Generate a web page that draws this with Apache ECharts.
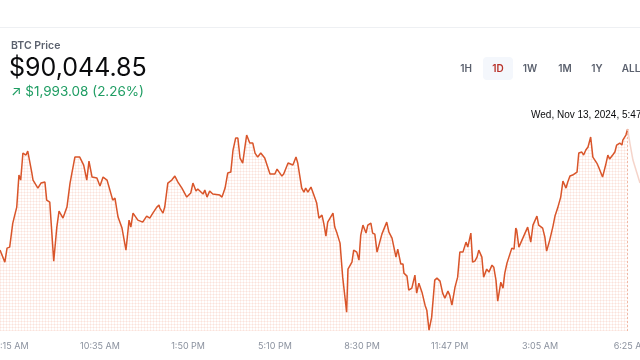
<!DOCTYPE html>
<html>
<head>
<meta charset="utf-8">
<script src="https://cdn.jsdelivr.net/npm/echarts@6/dist/echarts.min.js"></script>
<style>
html,body{margin:0;padding:0;background:#fff;}
#chart{width:640px;height:360px;}
</style>
</head>
<body>
<div id="chart"></div>
<script>
// minutes after 7:15 AM (Nov 12, 2024)
const times = [-27,-16,-11,-5,2,11,16,20,25,32,36,45,48,59,66,75,79,86,95,102,107,116,125,132,143,154,163,170,175,182,193,200,207,216,229,234,241,250,259,266,270,275,286,297,306,313,320,329,334,336,343,347,354,363,370,377,386,397,406,411,418,422,434,438,443,449,456,472,477,484,490,497,502,508,513,518,524,529,533,540,547,552,558,565,574,586,597,602,613,617,627,638,645,649,658,663,667,672,679,683,688,692,697,704,708,713,717,729,733,738,745,751,760,763,772,776,783,788,792,797,804,808,815,819,824,829,840,851,856,863,872,876,883,888,890,897,901,908,915,919,924,931,938,942,947,953,960,965,972,978,983,990,994,999,1006,1012,1017,1024,1031,1035,1042,1046,1051,1056,1060,1067,1071,1078,1083,1090,1094,1099,1103,1110,1115,1119,1124,1128,1135,1140,1144,1146,1151,1158,1165,1171,1178,1183,1192,1196,1205,1210,1214,1221,1228,1233,1239,1246,1251,1258,1262,1267,1273,1283,1287,1294,1298,1303,1308,1314,1319,1328,1332,1341,1348,1353,1357,1364,1369,1373,1380,1385,1387,1394,1398,1403,1410,1419,1426];
const prices = [87140,86852,87188,87212,87788,88172,88940,88820,89468,89420,89516,89012,88820,88628,88748,88772,88340,88292,86876,87692,88076,87908,88172,88748,89372,89372,89180,88820,89276,88892,88868,88676,88892,88820,88340,88388,87932,87668,87140,87860,87692,88028,87860,87812,87956,87908,88028,88172,88220,88148,88028,88172,88748,88820,88916,88772,88628,88412,88508,88748,88556,88604,88484,88580,88412,88556,88484,88460,88412,88628,88988,89012,89540,89828,89828,89348,89228,89612,89900,89708,89708,89468,89372,89468,89348,88964,88964,89084,88916,88964,89228,89180,89372,89228,88628,88532,88628,88532,88652,88628,88388,88268,87908,87980,87788,87476,87812,88028,87692,87548,87308,86492,85652,86684,86852,87140,87092,86900,87500,87740,87548,87740,87788,87548,87524,87092,87524,87812,87572,87428,86972,87164,86804,86804,86588,86516,86180,86228,86540,86108,86348,86132,85820,85700,85220,85532,86420,86468,86396,86108,85988,86156,86060,85820,86252,86492,87092,87092,87332,87212,87548,86852,86876,86972,87140,86972,86492,86684,86612,86780,86732,86420,85916,86372,86228,86588,86828,86852,87188,87164,87668,87620,87212,87380,87548,87692,87332,87740,87956,87740,87668,87452,87116,87380,87692,87956,88148,88412,88796,88628,88772,88916,88940,89012,89468,89492,89420,89540,89612,89852,89372,89228,89132,88892,89180,89420,89324,89420,89492,89660,89708,89660,89780,89900,90044.85,89708,89300,88988,88748];
const tickTimes = [0,200,400,597,795,994,1199,1407];
const tickLabels = ['7:15 AM','10:35 AM','1:50 PM','5:10 PM','8:30 PM','11:47 PM','3:05 AM','6:25 AM'];
const hoverTime = 1398;
const hoverLabel = 'Wed, Nov 13, 2024, 5:47 AM';
const titleText = 'BTC Price';
const priceText = '$90,044.85';
const changeText = '\u2197 $1,993.08 (2.26%)';
const ranges = ['1H','1D','1W','1M','1Y','ALL'];
const activeRange = '1D';

const hi = times.indexOf(hoverTime);
const past = times.slice(0, hi + 1).map((t, i) => [t, prices[i]]);
const after = times.slice(hi).map((t, i) => [t, prices[hi + i]]);

const pc = document.createElement('canvas');
pc.width = 3; pc.height = 3;
const g = pc.getContext('2d');
g.fillStyle = 'rgba(232,120,80,0.16)';
g.fillRect(0, 0, 3, 1);
g.fillRect(0, 0, 1, 3);

const FONT = 'Inter, "Noto Sans", sans-serif';
const rangeX = [466, 498, 530, 565, 597, 631];

const graphics = [
  {type:'rect', shape:{x:0,y:27,width:640,height:1}, style:{fill:'#eef0f3'}, silent:true},
  {type:'text', left:11, top:40, style:{text:titleText, font:'600 10.5px ' + FONT, fill:'#5b616e'}},
  {type:'text', left:9, top:56, style:{text:priceText, font:'400 25px ' + FONT, fill:'#0a0b0d'}},
  {type:'text', left:11, top:85, style:{text:changeText, font:'400 13.5px ' + FONT, fill:'#1f9d63'}},
  {type:'rect', shape:{x:483,y:57,width:30,height:23,r:4}, style:{fill:'#f4f7fc'}},
  {type:'text', left:531, top:110, style:{text:hoverLabel, font:'400 10px "Liberation Sans", Arial, sans-serif', fill:'#0a0b0d'}}
];
ranges.forEach((r, i) => {
  graphics.push({type:'text', x:rangeX[i], y:69, style:{text:r, font:'600 10px ' + FONT, fill: r === activeRange ? '#b8322a' : '#5b616e', align:'center', verticalAlign:'middle'}});
});

const chart = echarts.init(document.getElementById('chart'));
chart.setOption({
  animation:false,
  backgroundColor:'#ffffff',
  grid:{left:0,right:0,top:129,bottom:29,containLabel:false,outerBoundsMode:'none'},
  xAxis:{
    type:'value', min:-27, max:1426,
    axisLine:{show:false}, axisTick:{show:false}, splitLine:{show:false},
    axisLabel:{
      customValues: tickTimes,
      formatter: v => { const k = tickTimes.indexOf(v); return k >= 0 ? tickLabels[k] : ''; },
      color:'#8a919e', fontSize:9, fontFamily:FONT, margin:11, showMinLabel:true, showMaxLabel:true
    }
  },
  yAxis:{type:'value', min:85200, max:90044.85, show:false, splitLine:{show:false}},
  graphic: graphics,
  series:[
    {
      type:'line', data:past, symbol:'none', clip:false,
      lineStyle:{color:'#d9552a', width:1.5},
      areaStyle:{color:{image:pc, repeat:'repeat'}, origin:'start'},
      markLine:{
        symbol:'none', silent:true, label:{show:false},
        lineStyle:{color:'#f0b8a4', type:[2,2], width:1},
        data:[[{coord:[hoverTime, prices[hi]]},{coord:[hoverTime, 85200]}]]
      }
    },
    {
      type:'line', data:after, symbol:'none', clip:false,
      lineStyle:{color:'rgba(217,85,42,0.25)', width:1.5}
    }
  ]
});
</script>
</body>
</html>
